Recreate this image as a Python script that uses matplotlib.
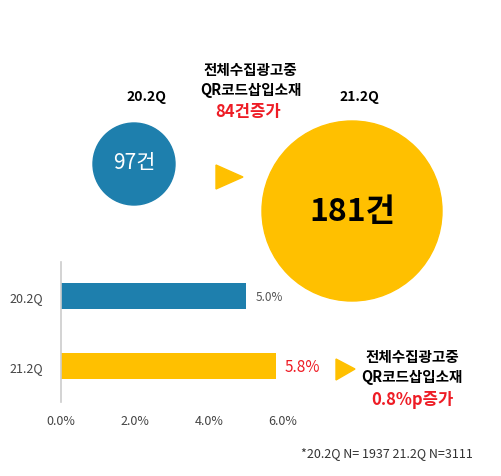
import matplotlib.pyplot as plt
from matplotlib.patches import Circle, Polygon

plt.rcParams['font.family'] = ['Noto Sans CJK KR', 'DejaVu Sans']

# 데이터
quarters = ['20.2Q', '21.2Q']
counts = [97, 181]
ratios = [5.0, 5.8]
xticks = [0, 2, 4, 6]
note = '*20.2Q N= 1937 21.2Q N=3111'

blue = '#1e7fad'
yellow = '#ffc000'
red = '#ee1c25'

fig = plt.figure(figsize=(5.02, 4.77), dpi=100)

# 전체 캔버스 (픽셀 좌표)
bg = fig.add_axes([0, 0, 1, 1])
bg.set_xlim(0, 502)
bg.set_ylim(477, 0)
bg.axis('off')

# 원 (건수)
circ_pos = [(134, 165, 41, blue), (352, 212, 90, yellow)]
for (cx, cy, r, c), q, n in zip(circ_pos, quarters, counts):
    bg.add_patch(Circle((cx, cy), r, color=c, zorder=1))
bg.text(134, 163, f'{counts[0]}건', color='white', fontsize=15, ha='center', va='center')
bg.text(352, 212, f'{counts[1]}건', color='black', fontsize=23, fontweight='bold',
        ha='center', va='center')
bg.text(146, 97, quarters[0], fontsize=10, fontweight='bold', ha='center', va='center')
bg.text(359, 97, quarters[1], fontsize=10, fontweight='bold', ha='center', va='center')

# 증가 표시
bg.add_patch(Polygon([(216, 166), (216, 190), (243, 178)], color=yellow))
bg.add_patch(Polygon([(336, 360), (336, 381), (355, 370)], color=yellow))

bg.text(250, 70, '전체수집광고중', fontsize=10.5, fontweight='bold', ha='center', va='center')
bg.text(251, 90, 'QR코드삽입소재', fontsize=10.5, fontweight='bold', ha='center', va='center')
bg.text(248, 112, f'{counts[1] - counts[0]}건증가', fontsize=12, fontweight='bold',
        color=red, ha='center', va='center')

bg.text(412, 357, '전체수집광고중', fontsize=10.5, fontweight='bold', ha='center', va='center')
bg.text(412, 377, 'QR코드삽입소재', fontsize=10.5, fontweight='bold', ha='center', va='center')
bg.text(412, 400, f'{ratios[1] - ratios[0]:.1f}%p증가', fontsize=12, fontweight='bold',
        color=red, ha='center', va='center')

bg.text(387, 454, note, fontsize=9, color='#333333', ha='center', va='center')

# 막대 그래프 (비율)
W, H = 502, 477
ax = fig.add_axes([61 / W, 1 - 403 / H, (283 - 61) / W, (403 - 263) / H])
ax.patch.set_alpha(0)
ypos = [0, 1]
ax.barh(ypos, ratios, height=0.36, color=[blue, yellow], zorder=2)
ax.set_xlim(0, 6)
ax.set_ylim(1.514, -0.486)
ax.set_yticks(ypos)
ax.set_yticklabels(quarters, fontsize=9, color='#444444')
ax.set_xticks(xticks)
ax.set_xticklabels([f'{v:.1f}%' for v in xticks], fontsize=9, color='#444444')
ax.tick_params(length=0, pad=13)
ax.tick_params(axis='x', pad=9)
for s in ['top', 'right', 'bottom']:
    ax.spines[s].set_visible(False)
ax.spines['left'].set_color('#cccccc')
ax.spines['left'].set_linewidth(1.2)

ax.text(ratios[0] + 0.25, ypos[0], f'{ratios[0]:.1f}%', fontsize=8.5, color='#555555',
        va='center')
ax.text(ratios[1] + 0.25, ypos[1], f'{ratios[1]:.1f}%', fontsize=11, color=red,
        fontweight='medium', va='center')

fig.savefig('out.png', dpi=100)
